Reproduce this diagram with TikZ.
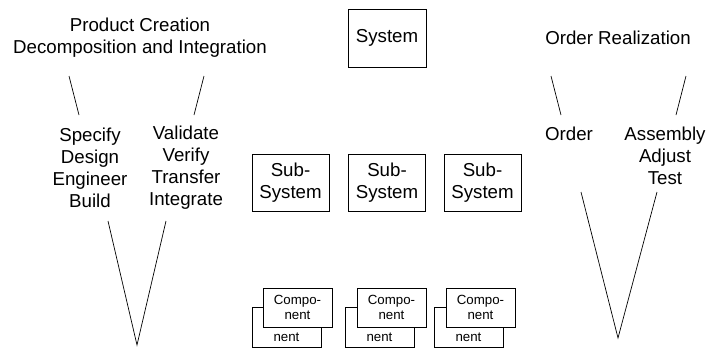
\documentclass[tikz,border=0pt]{standalone}
\usepackage{fontspec}
\setmainfont{Liberation Sans}
\begin{document}
\begin{tikzpicture}[x=1pt,y=-1pt,
  big/.style={font=\fontsize{18.7}{22}\selectfont, align=center, inner sep=0pt},
  small/.style={font=\fontsize{13.3}{15.7}\selectfont, align=center, inner sep=0pt},
  sysbox/.style={draw, line width=0.7pt, big, minimum width=78pt, minimum height=58pt},
  subbox/.style={draw, line width=0.7pt, big, minimum width=77pt, minimum height=57pt},
  compfront/.style={draw, line width=0.7pt, fill=white, small, minimum width=69pt, minimum height=39pt},
  compback/.style={draw, line width=0.7pt, minimum width=69pt, minimum height=40pt},
  vline/.style={line width=0.7pt}]
\useasboundingbox (0,0) rectangle (710,349);
% titles
\node[big] (pc) at (140,38) {Product Creation\\Decomposition and Integration};
\node[big] (or) at (618,38) {Order Realization};
% columns
\node[big] (spec) at (90,168) {Specify\\Design\\Engineer\\Build};
\node[big] (val) at (186,168) {Validate\\Verify\\Transfer\\Integrate};
\node[big] (ord) at (569,134) {Order};
\node[big] (asm) at (665,156) {Assembly\\Adjust\\Test};
% boxes
\node[sysbox] (sys) at (387,38) {System};
\node[subbox] (sub1) at (290.5,182.5) {Sub-\\System};
\node[subbox] (sub2) at (387,182.5) {Sub-\\System};
\node[subbox] (sub3) at (482.5,182.5) {Sub-\\System};
% components
\foreach \bx/\fx/\i in {252/263/1, 345/357/2, 434/446/3}{
  \node[compback] (cb\i) at (\bx+34.5,327) {};
  \node[small] (cbt\i) at (\bx+34.5,337) {nent};
  \node[compfront] (cf\i) at (\fx+34.5,307.5) {Compo-\\nent};
}
% V lines left
\coordinate (l1a) at (69,76);  \coordinate (l1b) at (79,115);
\coordinate (l2a) at (204,76); \coordinate (l2b) at (194,115);
\coordinate (l3a) at (108,221); \coordinate (lap) at (137,345); \coordinate (l4a) at (166,221);
\draw[vline] (l1a) -- (l1b);
\draw[vline] (l2a) -- (l2b);
\draw[vline] (l3a) -- (lap) -- (l4a);
% V lines right
\coordinate (r1a) at (551,76);  \coordinate (r1b) at (561,115);
\coordinate (r2a) at (686,76);  \coordinate (r2b) at (676,115);
\coordinate (r3a) at (581,192); \coordinate (rap) at (618,338); \coordinate (r4a) at (657,192);
\draw[vline] (r1a) -- (r1b);
\draw[vline] (r2a) -- (r2b);
\draw[vline] (r3a) -- (rap) -- (r4a);
\end{tikzpicture}
\end{document}
